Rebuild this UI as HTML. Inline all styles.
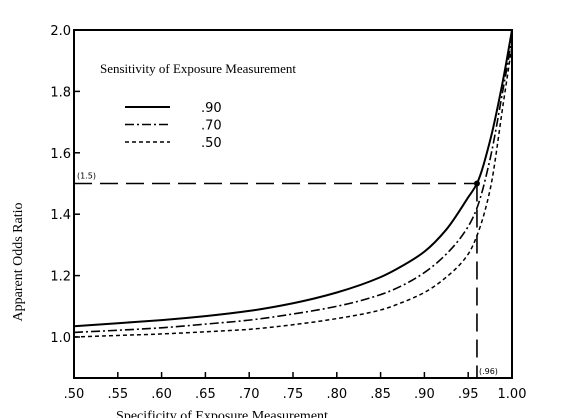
<!DOCTYPE html>
<html><head><meta charset="utf-8"><style>
body{margin:0;background:#fff;}
svg{display:block;}
.tk{font-family:"DejaVu Sans","Liberation Sans",sans-serif;font-size:13px;fill:#000;}
.sf{font-family:"Liberation Serif",serif;fill:#000;}
</style></head><body>
<svg id="chart" width="570" height="418" viewBox="0 0 570 418" xmlns="http://www.w3.org/2000/svg">
<rect width="570" height="418" fill="#fff"/>
<g id="axes"></g>
<g id="series"></g>
<text class="sf" x="100" y="73" font-size="13">Sensitivity of Exposure Measurement</text>
<text class="sf" x="0" y="0" font-size="14" transform="translate(22,262) rotate(-90)" text-anchor="middle">Apparent Odds Ratio</text>
<text class="sf" x="222" y="420" font-size="14" text-anchor="middle">Specificity of Exposure Measurement</text>
</svg>
<script>
const xTicks=[0.50,0.55,0.60,0.65,0.70,0.75,0.80,0.85,0.90,0.95,1.00];
const xTickLabels=[".50",".55",".60",".65",".70",".75",".80",".85",".90",".95","1.00"];
const yTicks=[1.0,1.2,1.4,1.6,1.8,2.0];
const yTickLabels=["1.0","1.2","1.4","1.6","1.8","2.0"];
const specificity=[0.50,0.55,0.60,0.65,0.70,0.75,0.80,0.85,0.875,0.90,0.925,0.95,0.96,0.975,0.99,1.00];
const sens90=[1.035,1.045,1.055,1.068,1.085,1.11,1.145,1.195,1.232,1.278,1.35,1.455,1.5,1.64,1.84,2.0];
const sens70=[1.015,1.022,1.03,1.042,1.055,1.075,1.10,1.138,1.168,1.21,1.27,1.36,1.42,1.58,1.81,1.97];
const sens50=[1.0,1.005,1.01,1.017,1.025,1.04,1.06,1.088,1.113,1.145,1.195,1.27,1.33,1.48,1.76,1.95];
const seriesNames=[".90",".70",".50"];
const refPoint=[0.96,1.5];
const NS="http://www.w3.org/2000/svg";
const X=v=>74+(v-0.5)/0.5*438;
const Y=v=>337-(v-1)*307;
const yBottom=378;
function mk(t,a,p){const e=document.createElementNS(NS,t);for(const k in a)e.setAttribute(k,a[k]);p.appendChild(e);return e;}
function monotonePath(xs,ys){
 const n=xs.length,h=[],s=[],m=new Array(n);
 for(let i=0;i<n-1;i++){h.push(xs[i+1]-xs[i]);s.push((ys[i+1]-ys[i])/h[i]);}
 m[0]=s[0];m[n-1]=s[n-2];
 for(let i=1;i<n-1;i++){
  if(s[i-1]*s[i]<=0)m[i]=0;
  else{const w1=2*h[i]+h[i-1],w2=h[i]+2*h[i-1];m[i]=(w1+w2)/(w1/s[i-1]+w2/s[i]);}
 }
 let d='M'+X(xs[0]).toFixed(1)+','+Y(ys[0]).toFixed(1);
 for(let i=0;i<n-1;i++){
  const dx=h[i]/3;
  d+=' C'+X(xs[i]+dx).toFixed(2)+','+Y(ys[i]+m[i]*dx).toFixed(2)+' '+X(xs[i+1]-dx).toFixed(2)+','+Y(ys[i+1]-m[i+1]*dx).toFixed(2)+' '+X(xs[i+1]).toFixed(2)+','+Y(ys[i+1]).toFixed(2);
 }
 return d;
}
const ax=document.getElementById('axes');
const frame=mk('rect',{x:X(0.5),y:Y(2),width:X(1)-X(0.5),height:yBottom-Y(2),fill:'none',stroke:'#000','stroke-width':2},ax);


xTicks.forEach((v,i)=>{
 const l=mk('line',{x1:X(v),x2:X(v),y1:yBottom,y2:yBottom-6,stroke:'#000','stroke-width':1.5},ax);
 
 
 const t=mk('text',{x:X(v),y:398,'text-anchor':'middle',class:'tk'},ax);t.textContent=xTickLabels[i];
 
 
});
yTicks.forEach((v,i)=>{
 const l=mk('line',{x1:X(0.5),x2:X(0.5)+6,y1:Y(v),y2:Y(v),stroke:'#000','stroke-width':1.5},ax);
 
 
 const t=mk('text',{x:X(0.5)-3,y:Y(v)+5,'text-anchor':'end',class:'tk'},ax);t.textContent=yTickLabels[i];
 
 
});
const sg=document.getElementById('series');
const styles=[{w:2,d:''},{w:1.6,d:'9 3 2 3'},{w:1.5,d:'4 3'}];
[sens90,sens70,sens50].forEach((arr,i)=>{
 const p=mk('path',{d:monotonePath(specificity,arr),fill:'none',stroke:'#000','stroke-width':styles[i].w,'stroke-dasharray':styles[i].d},sg);
 
 
 const ly=107+i*17.5;
 const ll=mk('line',{x1:125,x2:170,y1:ly,y2:ly,stroke:'#000','stroke-width':styles[i].w,'stroke-dasharray':styles[i].d},sg);
 
 
 const lt=mk('text',{x:201,y:ly+5,class:'tk'},sg);lt.textContent=seriesNames[i];
 
 
});
const h=mk('line',{x1:X(0.5),x2:X(refPoint[0]),y1:Y(refPoint[1]),y2:Y(refPoint[1]),stroke:'#000','stroke-width':1.6,'stroke-dasharray':'18 8'},sg);


const v=mk('line',{x1:X(refPoint[0]),x2:X(refPoint[0]),y1:Y(refPoint[1]),y2:yBottom,stroke:'#000','stroke-width':1.6,'stroke-dasharray':'18 8'},sg);


const c=mk('circle',{cx:X(refPoint[0]),cy:Y(refPoint[1]),r:3,fill:'#000'},sg);


const a1=mk('text',{x:77,y:Y(refPoint[1])-5,'font-size':8,'font-family':'DejaVu Sans, sans-serif'},sg);a1.textContent='(1.5)';


const a2=mk('text',{x:X(refPoint[0])+2,y:374,'font-size':8,'font-family':'DejaVu Sans, sans-serif'},sg);a2.textContent='(.96)';


</script>
</body></html>
